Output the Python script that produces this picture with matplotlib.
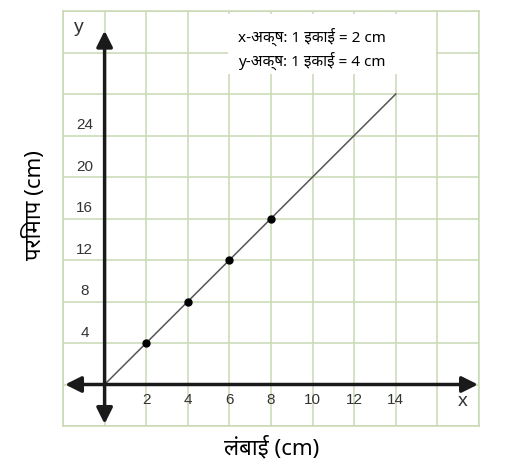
import matplotlib.pyplot as plt
from matplotlib import font_manager
from matplotlib.patches import Rectangle

# data
lengths = [2, 4, 6, 8]
perimeters = [4, 8, 12, 16]
line_x = [0, 14]
line_y = [0, 28]
x_ticks = [2, 4, 6, 8, 10, 12, 14]
y_ticks = [4, 8, 12, 16, 20, 24]
legend_lines = ["x-अक्ष: 1 इकाई = 2 cm", "y-अक्ष: 1 इकाई = 4 cm"]
xlabel = "लंबाई (cm)"
ylabel = "परिमाप (cm)"

names = {f.name for f in font_manager.fontManager.ttflist}
text_fonts = [n for n in ['Noto Sans', 'Noto Sans Devanagari', 'Mukta', 'DejaVu Sans']
              if n in names]

fig = plt.figure(figsize=(5.09, 4.77), dpi=100)
ax = fig.add_axes([63/509, 1-427/477, 416/509, 415/477])
ax.set_xlim(-2, 18)
ax.set_ylim(-4, 36)
ax.set_xticks(range(-2, 19, 2))
ax.set_yticks(range(-4, 37, 4))
ax.grid(True, color='#c9d8b4', lw=1.1)
ax.tick_params(length=0, labelbottom=False, labelleft=False)
for s in ax.spines.values():
    s.set_color('#c9d8b4')
    s.set_linewidth(1.1)

ax.plot(line_x, line_y, color='#555555', lw=1.1, zorder=3)
ax.plot(lengths, perimeters, 'o', color='black', ms=5, zorder=4)

arrow = dict(arrowstyle='<|-|>,head_length=0.8,head_width=0.4', lw=2.5,
             color='#1a1a1a', shrinkA=0, shrinkB=0, mutation_scale=12)
ax.annotate('', xy=(17.95, 0), xytext=(-1.9, 0), arrowprops=arrow, zorder=5)
ax.annotate('', xy=(0, 34.1), xytext=(0, -3.8), arrowprops=arrow, zorder=5)

for t in x_ticks:
    ax.text(t, -1.4, str(t), ha='center', va='center', fontsize=11,
            color='#333333', family='Liberation Sans')
for t in y_ticks:
    ax.text(-0.95, t + 1.1, str(t), ha='center', va='center', fontsize=11,
            color='#333333', family='Liberation Sans')
ax.text(17.2, -1.5, 'x', ha='center', va='center', fontsize=14, color='#333333',
        family='Liberation Sans')
ax.text(-1.25, 34.5, 'y', ha='center', va='center', fontsize=14, color='#333333',
        family='Liberation Sans')

ax.add_patch(Rectangle((5.95, 29.95), 10.0, 5.8, facecolor='white',
                       edgecolor='none', zorder=5))
ax.text(6.4, 32.45, legend_lines[0] + "\n" + legend_lines[1], ha='left', va='center',
        fontsize=11, family=text_fonts, linespacing=1.35, zorder=6)

fig.text(272/509, 1-447/477, xlabel, ha='center', va='center', fontsize=16,
         family=text_fonts)
fig.text(35/509, 1-205/477, ylabel, ha='center', va='center', fontsize=16,
         rotation=90, family=text_fonts)

fig.savefig('out.png', dpi=100)
